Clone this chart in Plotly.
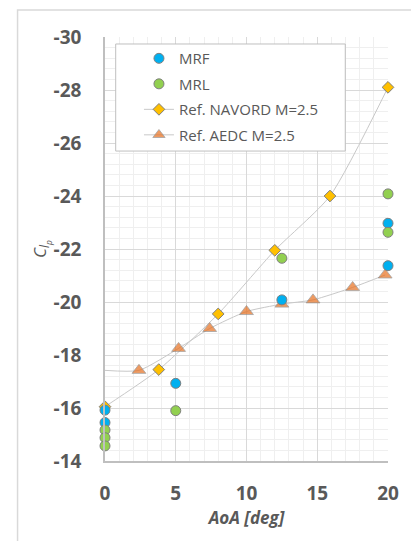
import plotly.graph_objects as go

# Data
mrf_x = [0, 0, 5, 12.5, 20, 20]
mrf_y = [-15.92, -15.45, -16.93, -20.08, -21.37, -22.97]

mrl_x = [0, 0, 0, 5, 12.5, 20, 20]
mrl_y = [-15.17, -14.88, -14.57, -15.9, -21.65, -22.63, -24.08]

navord_x = [0, 3.8, 8, 12, 15.9, 20]
navord_y = [-16.05, -17.45, -19.55, -21.95, -24.0, -28.1]

aedc_x = [0, 2.4, 5.2, 7.4, 10, 12.5, 14.7, 17.5, 19.8]
aedc_y = [-17.42, -17.42, -18.25, -19.0, -19.64, -19.92, -20.08, -20.55, -21.02]

x_ticks = [0, 5, 10, 15, 20]
y_ticks = [-30, -28, -26, -24, -22, -20, -18, -16, -14]

FONT = "Open Sans, Liberation Sans, sans-serif"
GRAY_TEXT = "#595959"
EDGE = "#7f7f7f"
LINE = "#c8c8c8"

fig = go.Figure()

fig.add_trace(go.Scatter(
    x=navord_x, y=navord_y, mode="lines+markers", name="Ref. NAVORD M=2.5",
    legendrank=3, legendgroup="c", cliponaxis=False,
    line=dict(color=LINE, width=1, shape="spline", smoothing=0.6),
    marker=dict(symbol="diamond", size=9, color="#ffc000",
                line=dict(color=EDGE, width=1)),
))
aedc_sizes = [0] + [12] * (len(aedc_x) - 1)
fig.add_trace(go.Scatter(
    x=aedc_x, y=aedc_y, mode="lines+markers", name="Ref. AEDC M=2.5",
    legendrank=4, legendgroup="d", cliponaxis=False,
    line=dict(color=LINE, width=1, shape="spline", smoothing=0.6),
    marker=dict(symbol="triangle-up", size=aedc_sizes, color="#e8701f",
                line=dict(color=EDGE, width=0.8)),
))
fig.add_trace(go.Scatter(
    x=mrf_x, y=mrf_y, mode="markers", name="MRF",
    legendrank=1, legendgroup="a", cliponaxis=False,
    marker=dict(symbol="circle", size=10, color="#00b0f0",
                line=dict(color=EDGE, width=1)),
))
fig.add_trace(go.Scatter(
    x=mrl_x, y=mrl_y, mode="markers", name="MRL",
    legendrank=2, legendgroup="b", cliponaxis=False,
    marker=dict(symbol="circle", size=10, color="#92d050",
                line=dict(color=EDGE, width=1)),
))

# Chart-area border (partially visible)
fig.add_shape(type="rect", xref="paper", yref="paper",
              x0=-0.309, x1=1.5, y0=-0.5, y1=1.0637,
              line=dict(color="#d9d9d9", width=1.5), layer="below")
# Legend box
fig.add_shape(type="rect", xref="paper", yref="paper",
              x0=0.0378, x1=0.849, y0=0.731, y1=0.9835,
              line=dict(color="#bfbfbf", width=1), fillcolor="white",
              layer="above")

fig.update_layout(
    width=411, height=541,
    margin=dict(l=105, r=15, t=37, b=80),
    paper_bgcolor="white", plot_bgcolor="white",
    font=dict(family=FONT, color=GRAY_TEXT),
    showlegend=True,
    legend=dict(
        x=0.12, y=0.988, xanchor="left", yanchor="top",
        bgcolor="rgba(0,0,0,0)", borderwidth=0,
        font=dict(size=15, color=GRAY_TEXT, family=FONT),
        itemwidth=30, tracegroupgap=3,
    ),
    xaxis=dict(
        range=[0, 20], tickvals=x_ticks, ticktext=[str(v) for v in x_ticks],
        showgrid=True, gridcolor="#d9d9d9", gridwidth=1,
        minor=dict(dtick=1, showgrid=True, gridcolor="#efefef", gridwidth=1),
        showline=True, linecolor="#bfbfbf", linewidth=1.5,
        zeroline=False, ticks="", ticklabelstandoff=14,
        tickfont=dict(size=19, color=GRAY_TEXT, family=FONT, weight="bold"),
        title=dict(text="<b><i>AoA [deg]</i></b>", font=dict(size=17, color=GRAY_TEXT),
                   standoff=6),
    ),
    yaxis=dict(
        range=[-14, -30], autorange=False, tickvals=y_ticks,
        ticktext=[str(v) for v in y_ticks],
        showgrid=True, gridcolor="#d9d9d9", gridwidth=1,
        minor=dict(dtick=0.4, tick0=-30, showgrid=True, gridcolor="#efefef", gridwidth=1),
        showline=True, linecolor="#bfbfbf", linewidth=1.5,
        zeroline=False, ticks="", ticklabelstandoff=18,
        tickfont=dict(size=19, color=GRAY_TEXT, family=FONT, weight="bold"),
        title=dict(text="<i>C<sub>l<sub>p</sub></sub></i>", font=dict(size=17, color=GRAY_TEXT),
                   standoff=2),
    ),
)

fig.write_html(
    "out.html",
    config={"displayModeBar": False},
    post_script="document.body.style.margin='0';document.body.style.overflow='hidden';",
)
